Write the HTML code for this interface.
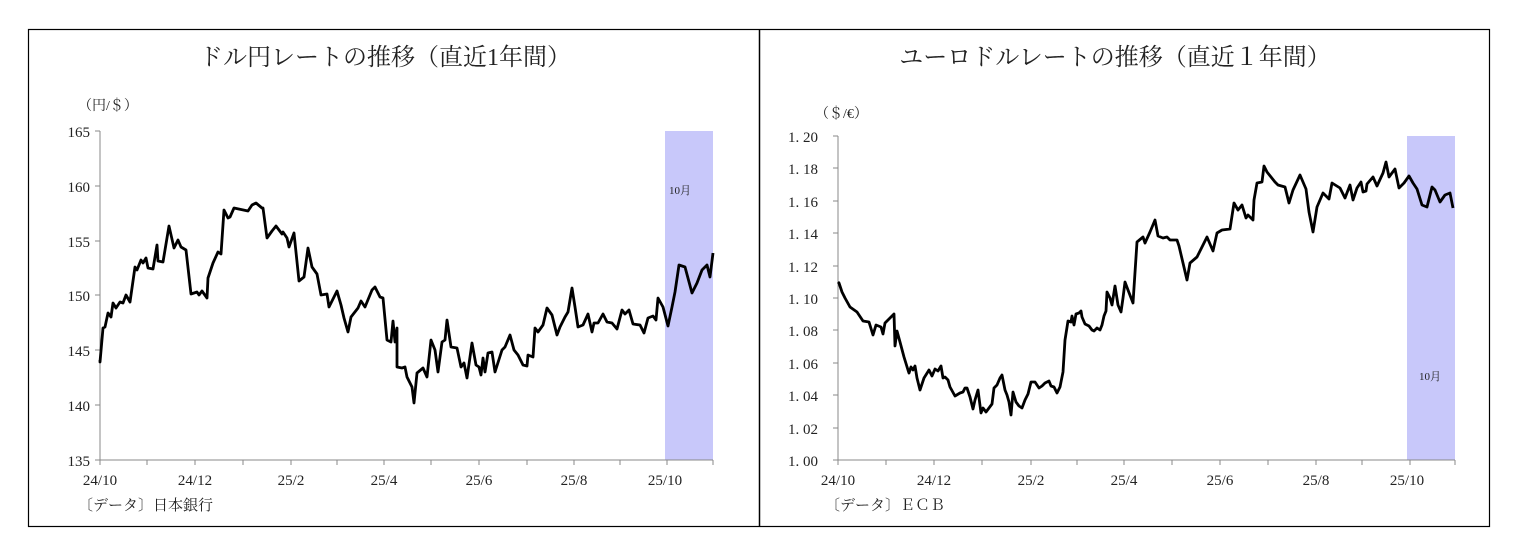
<!DOCTYPE html>
<html><head><meta charset="utf-8"><style>
body{margin:0;background:#fff;}
svg text{font-family:"Liberation Serif","Noto Serif CJK JP",serif;fill:#222;}
</style></head><body>
<svg width="1518" height="551" viewBox="0 0 1518 551" xmlns="http://www.w3.org/2000/svg">
<rect x="28.5" y="29.5" width="1461" height="497" fill="none" stroke="#000" stroke-width="1.2"/>
<line x1="759.5" y1="29" x2="759.5" y2="527" stroke="#000" stroke-width="1.5"/>
<!-- LEFT -->
<text x="385" y="65" font-size="24" text-anchor="middle">ドル円レートの推移（直近1年間）</text>
<text x="78" y="110" font-size="14">（円/＄）</text>
<rect x="665" y="131" width="48" height="329" fill="#c8c8fa"/>
<text x="680" y="194" font-size="11" text-anchor="middle">10月</text>
<g stroke="#888" stroke-width="1">
<line x1="100" y1="131" x2="100" y2="460"/><line x1="100" y1="460" x2="713" y2="460"/>
<line x1="95" y1="131" x2="100" y2="131"/><line x1="95" y1="186" x2="100" y2="186"/><line x1="95" y1="241" x2="100" y2="241"/><line x1="95" y1="295" x2="100" y2="295"/><line x1="95" y1="350" x2="100" y2="350"/><line x1="95" y1="405" x2="100" y2="405"/><line x1="95" y1="460" x2="100" y2="460"/>
<line x1="100" y1="460" x2="100" y2="465"/><line x1="147" y1="460" x2="147" y2="465"/><line x1="195" y1="460" x2="195" y2="465"/><line x1="243" y1="460" x2="243" y2="465"/><line x1="291" y1="460" x2="291" y2="465"/><line x1="337" y1="460" x2="337" y2="465"/><line x1="384" y1="460" x2="384" y2="465"/><line x1="431" y1="460" x2="431" y2="465"/><line x1="479" y1="460" x2="479" y2="465"/><line x1="527" y1="460" x2="527" y2="465"/><line x1="574" y1="460" x2="574" y2="465"/><line x1="620" y1="460" x2="620" y2="465"/><line x1="667" y1="460" x2="667" y2="465"/><line x1="713" y1="460" x2="713" y2="465"/>
</g>
<g font-size="15" text-anchor="end">
<text x="90" y="137">165</text><text x="90" y="192">160</text><text x="90" y="247">155</text><text x="90" y="301">150</text><text x="90" y="356">145</text><text x="90" y="411">140</text><text x="90" y="466">135</text>
</g>
<g font-size="15" text-anchor="middle">
<text x="100" y="485">24/10</text><text x="195" y="485">24/12</text><text x="291" y="485">25/2</text><text x="384" y="485">25/4</text><text x="479" y="485">25/6</text><text x="574" y="485">25/8</text><text x="665" y="485">25/10</text>
</g>
<text x="78" y="510" font-size="15">〔データ〕日本銀行</text>
<polyline fill="none" stroke="#000" stroke-width="2.8" stroke-linejoin="round" points="100,360 100,362 103,328 105,327 108,313 111,317 113,303 116,308 120,302 123,303 126,295 130,302 135,267 137,270 141,260 143,263 146,258 148,268 153,269 157,245 158,261 163,262 169,226 174,248 178,240 181,247 186,250 191,294 197,292 199,295 202,291 207,298 208,278 213,263 218,252 221,254 224,210 228,218 230,217 234,208 248,211 252,205 256,203 262,208 263,208 267,238 272,231 276,226 282,234 283,232 287,238 289,247 294,233 299,281 304,277 308,248 312,267 317,274 321,295 327,294 329,307 337,291 341,305 344,318 348,332 351,317 358,308 361,301 365,307 372,290 375,287 380,297 383,298 387,340 391,342 393,321 395,342 397,328 397,367 402,368 405,367 407,377 412,387 414,403 417,373 423,368 427,377 431,340 435,350 438,372 442,342 445,340 447,320 451,347 457,348 461,367 464,363 467,378 472,343 476,365 479,367 481,375 483,358 485,372 488,353 492,352 495,372 502,350 505,347 510,335 514,350 518,355 523,365 527,366 528,355 533,357 535,328 538,332 543,325 547,308 552,315 557,335 560,327 565,317 568,312 572,288 575,307 578,327 583,325 588,314 592,332 594,323 598,323 603,314 607,322 612,323 617,329 622,310 625,314 629,310 633,324 640,325 644,333 648,318 653,316 656,320 658,298 663,307 668,326 672,307 675,292 679,265 685,267 692,293 697,283 702,270 707,265 710,277 713,253"/>
<!-- RIGHT -->
<text x="1115" y="65" font-size="24" text-anchor="middle">ユーロドルレートの推移（直近１年間）</text>
<text x="815" y="118" font-size="14">（＄/€）</text>
<rect x="1407" y="136" width="48" height="324" fill="#c8c8fa"/>
<text x="1430" y="380" font-size="11" text-anchor="middle">10月</text>
<g stroke="#888" stroke-width="1">
<line x1="838" y1="136" x2="838" y2="460"/><line x1="838" y1="460" x2="1455" y2="460"/>
<line x1="833" y1="136" x2="838" y2="136"/><line x1="833" y1="168" x2="838" y2="168"/><line x1="833" y1="201" x2="838" y2="201"/><line x1="833" y1="233" x2="838" y2="233"/><line x1="833" y1="266" x2="838" y2="266"/><line x1="833" y1="298" x2="838" y2="298"/><line x1="833" y1="330" x2="838" y2="330"/><line x1="833" y1="363" x2="838" y2="363"/><line x1="833" y1="395" x2="838" y2="395"/><line x1="833" y1="428" x2="838" y2="428"/><line x1="833" y1="460" x2="838" y2="460"/>
<line x1="838" y1="460" x2="838" y2="465"/><line x1="886" y1="460" x2="886" y2="465"/><line x1="934" y1="460" x2="934" y2="465"/><line x1="982" y1="460" x2="982" y2="465"/><line x1="1031" y1="460" x2="1031" y2="465"/><line x1="1077" y1="460" x2="1077" y2="465"/><line x1="1124" y1="460" x2="1124" y2="465"/><line x1="1172" y1="460" x2="1172" y2="465"/><line x1="1220" y1="460" x2="1220" y2="465"/><line x1="1268" y1="460" x2="1268" y2="465"/><line x1="1316" y1="460" x2="1316" y2="465"/><line x1="1362" y1="460" x2="1362" y2="465"/><line x1="1410" y1="460" x2="1410" y2="465"/><line x1="1455" y1="460" x2="1455" y2="465"/>
</g>
<g font-size="15" text-anchor="end">
<text x="818" y="142">1. 20</text><text x="818" y="174">1. 18</text><text x="818" y="207">1. 16</text><text x="818" y="239">1. 14</text><text x="818" y="272">1. 12</text><text x="818" y="304">1. 10</text><text x="818" y="336">1. 08</text><text x="818" y="369">1. 06</text><text x="818" y="401">1. 04</text><text x="818" y="434">1. 02</text><text x="818" y="466">1. 00</text>
</g>
<g font-size="15" text-anchor="middle">
<text x="838" y="485">24/10</text><text x="934" y="485">24/12</text><text x="1031" y="485">25/2</text><text x="1124" y="485">25/4</text><text x="1220" y="485">25/6</text><text x="1316" y="485">25/8</text><text x="1407" y="485">25/10</text>
</g>
<text x="825" y="510" font-size="15">〔データ〕ＥＣＢ</text>
<polyline fill="none" stroke="#000" stroke-width="2.8" stroke-linejoin="round" points="838,282 839,283 842,292 845,298 850,307 857,312 863,321 869,322 873,335 876,325 881,327 883,334 885,323 890,318 894,314 895,346 897,331 900,342 904,357 908,370 909,373 911,367 913,370 915,366 917,378 920,390 924,378 929,370 932,376 935,369 938,371 941,366 943,378 945,377 948,380 950,387 955,396 960,393 963,392 965,388 967,388 970,397 973,409 975,400 978,390 981,413 983,408 986,412 989,408 992,404 994,388 997,385 1000,378 1002,375 1005,390 1007,395 1009,402 1011,415 1013,392 1016,402 1019,406 1022,408 1025,400 1028,394 1031,382 1035,382 1039,388 1042,386 1045,383 1049,381 1051,386 1054,387 1057,393 1060,387 1061,382 1063,372 1065,340 1068,321 1071,322 1072,316 1074,325 1076,314 1079,313 1081,311 1082,317 1085,324 1089,326 1092,330 1094,331 1097,328 1100,330 1102,325 1104,316 1106,311 1107,292 1110,298 1112,305 1115,286 1118,305 1121,312 1123,298 1125,282 1128,290 1133,303 1137,242 1143,237 1145,243 1150,232 1155,220 1158,236 1163,238 1167,237 1170,240 1177,240 1179,246 1187,280 1190,263 1197,257 1202,247 1207,237 1213,251 1217,233 1222,230 1230,229 1234,203 1238,210 1242,205 1246,218 1248,215 1253,220 1254,200 1257,183 1262,182 1264,166 1267,172 1275,182 1278,185 1285,187 1289,203 1293,190 1300,175 1306,189 1309,212 1313,232 1317,207 1323,193 1329,199 1332,183 1340,188 1345,198 1350,185 1353,200 1357,188 1361,182 1363,192 1366,191 1367,184 1373,177 1377,186 1383,173 1386,162 1389,177 1395,169 1399,188 1404,183 1409,176 1413,183 1417,189 1422,205 1427,207 1432,187 1435,190 1440,202 1445,195 1450,193 1453,208"/>
</svg>
</body></html>
